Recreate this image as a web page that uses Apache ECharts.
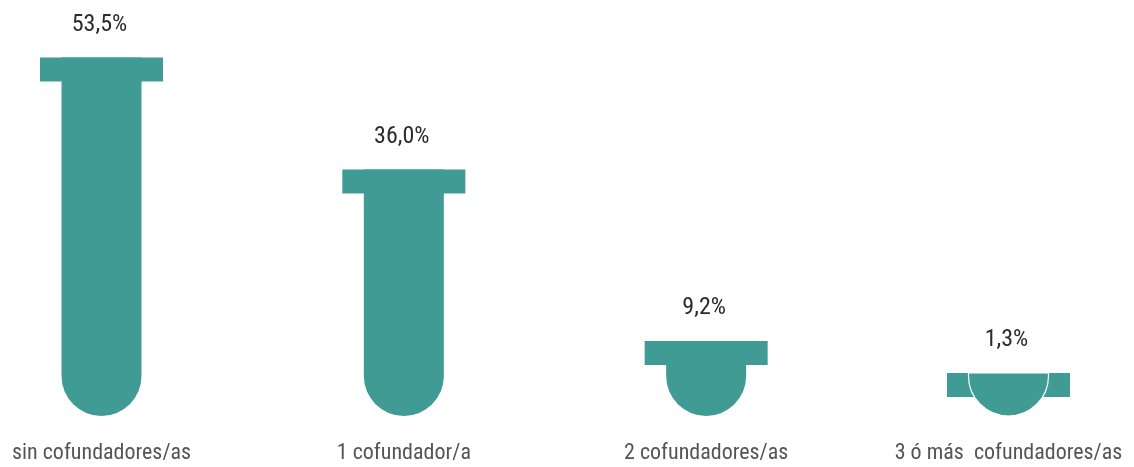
<!DOCTYPE html>
<html>
<head>
<meta charset="utf-8">
<script src="https://cdn.jsdelivr.net/npm/echarts@6/dist/echarts.min.js"></script>
<style>
  html, body { margin: 0; padding: 0; background: #fff; }
  #main { width: 1134px; height: 467px; }
</style>
</head>
<body>
<div id="main"></div>
<script>
// categorias y porcentajes
var categories = ["sin cofundadores/as", "1 cofundador/a", "2 cofundadores/as", "3 ó más  cofundadores/as"];
var values = [53.5, 36.0, 9.2, 1.3];
var valueLabels = ["53,5%", "36,0%", "9,2%", "1,3%"];

var yMin = -2.5, yMax = 60;
var teal = "#409b94";
var narrow = "'Liberation Sans Narrow', 'Roboto Condensed', sans-serif";

var chart = echarts.init(document.getElementById("main"));

// dibuja un tubo de ensayo para cada valor
function renderTube(params, api) {
    var idx = api.value(0);
    var top = api.coord([idx, api.value(1)]);
    var bottom = api.coord([idx, yMin]);
    var cx = top[0];
    var by = bottom[1];
    var r = 40, capW = 123, capH = 24;
    var ty = top[1];
    var clamped = false;
    if (ty > by - 43) { ty = by - 43; clamped = true; }

    var bodyPath = "M" + (cx - r) + "," + ty +
        " L" + (cx - r) + "," + (by - r) +
        " A" + r + "," + r + " 0 0 0 " + (cx + r) + "," + (by - r) +
        " L" + (cx + r) + "," + ty + " Z";
    var body = {
        type: "path",
        shape: { pathData: bodyPath },
        style: clamped ? { fill: teal, stroke: "#fff", lineWidth: 1.2 } : { fill: teal }
    };
    var cap = {
        type: "rect",
        shape: { x: cx - capW / 2, y: ty, width: capW, height: capH },
        style: { fill: teal }
    };
    var label = {
        type: "text",
        x: cx - 2,
        y: ty - 33,
        style: {
            text: valueLabels[params.dataIndex],
            fill: "#2b2b2b",
            font: "24px " + narrow,
            align: "center",
            verticalAlign: "middle"
        }
    };
    var children = clamped ? [cap, body, label] : [body, cap, label];
    return { type: "group", children: children };
}

var data = values.map(function (v, i) { return [i, v]; });

chart.setOption({
    animation: false,
    grid: { left: 101.5, right: 125.5, top: 16, bottom: 51 },
    xAxis: {
        type: "category",
        data: categories,
        boundaryGap: false,
        axisLine: { show: false },
        axisTick: { show: false },
        axisLabel: {
            interval: 0,
            margin: 26,
            color: "#555",
            fontSize: 22,
            fontFamily: narrow
        }
    },
    yAxis: {
        type: "value",
        min: yMin,
        max: yMax,
        show: false,
        splitLine: { show: false }
    },
    series: [{
        type: "custom",
        renderItem: renderTube,
        encode: { x: 0, y: 1 },
        data: data,
        clip: false
    }]
});
</script>
</body>
</html>
